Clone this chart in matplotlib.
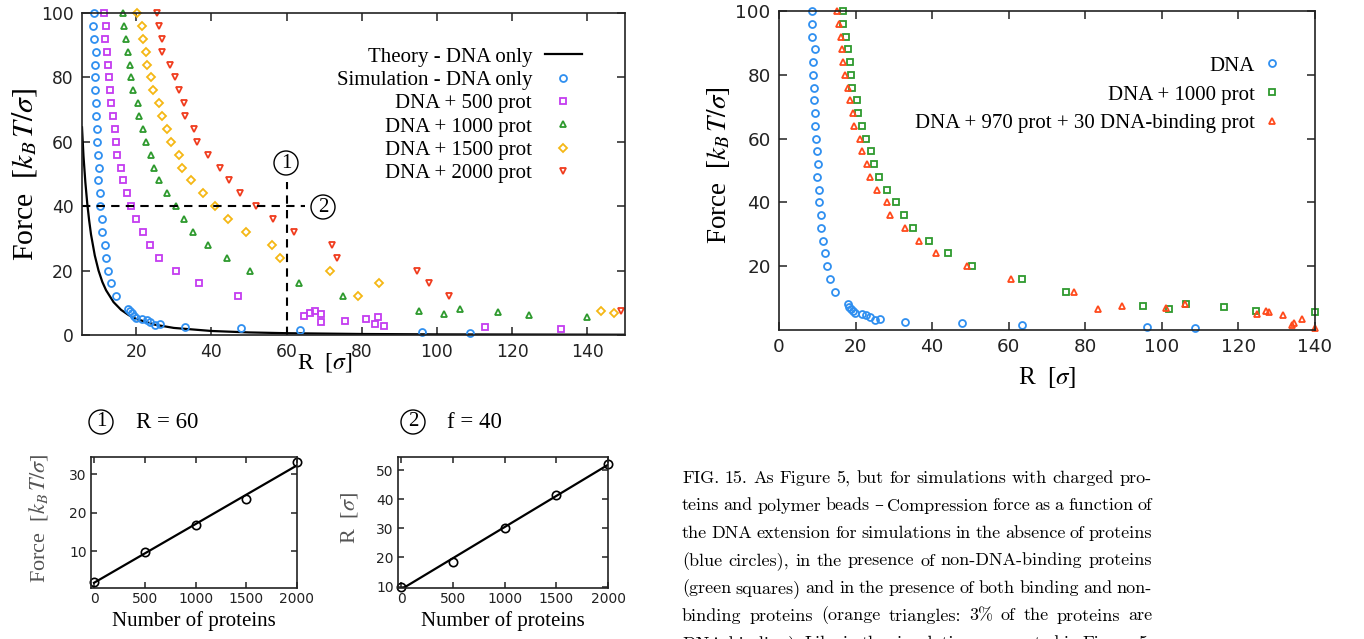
import numpy as np
import matplotlib.pyplot as plt

plt.rcParams['mathtext.fontset'] = 'stix'

W, H = 1364, 639
SERIF = 'Liberation Serif'

# force steps imposed in the compression runs
force_levels = [100, 96, 92, 88, 84, 80, 76, 72, 68, 64, 60, 56,
                52, 48, 44, 40, 36, 32, 28, 24, 20, 16, 12]

# DNA only
dna_R = [8.7, 8.5, 8.7, 9.4, 9.0, 9.0, 9.05, 9.2, 9.4, 9.5, 9.6, 9.9,
         10.1, 9.9, 10.4, 10.4, 10.9, 11.05, 11.6, 12.1, 12.45, 13.3, 14.6,
         17.9, 18.3, 18.9, 19.4, 19.9, 21.6, 22.8, 23.8, 25.1, 26.3, 32.9,
         47.8, 63.6, 96.0, 108.7]
dna_F = force_levels + [8.0, 7.3, 6.7, 6.0, 5.4, 4.9, 4.6, 4.05, 3.1, 3.5,
                        2.5, 2.2, 1.5, 1.0, 0.6]

# DNA + 500 proteins
p500_R = [11.5, 12.0, 11.8, 12.2, 12.5, 12.7, 13.1, 13.3, 13.8, 14.4, 14.6,
          15.0, 16.1, 16.6, 17.5, 18.6, 20.0, 21.8, 23.7, 26.2, 30.6, 36.6,
          47.1, 64.7, 66.3, 67.5, 69.2, 69.2, 75.6, 81.1, 84.3, 83.6, 85.8,
          112.9, 132.9]
p500_F = force_levels + [5.9, 6.9, 7.4, 6.4, 3.9, 4.3, 5.0, 5.5, 3.4, 2.9,
                         2.5, 1.9]

# DNA + 1000 proteins
p1000_R = [16.6, 16.8, 17.4, 17.9, 18.45, 18.7, 19.15, 20.45, 20.7, 21.8,
           22.7, 24.0, 24.7, 26.2, 28.3, 30.55, 32.6, 35.1, 39.1, 44.2, 50.4,
           63.4, 74.9, 95.1, 101.9, 106.2, 116.2, 124.5, 140.0]
p1000_F = force_levels + [7.6, 6.45, 8.0, 7.1, 6.1, 5.5]

# DNA + 1500 proteins
p1500_R = [20.3, 21.5, 21.9, 22.6, 23.0, 23.9, 24.6, 26.1, 27.0, 28.2, 29.2,
           31.5, 32.3, 34.6, 37.8, 41.0, 44.4, 49.3, 56.1, 58.3, 71.5, 84.5,
           79.0, 143.7, 147.1]
p1500_F = force_levels + [7.3, 6.9]

# DNA + 2000 proteins
p2000_R = [25.5, 26.2, 27.0, 27.0, 28.9, 30.3, 31.3, 32.6, 33.0, 35.3, 36.2,
           39.1, 42.2, 44.6, 47.5, 52.0, 56.3, 61.9, 72.1, 73.4, 94.7, 98.0,
           103.2, 148.9]
p2000_F = force_levels + [7.5]

# DNA + 970 proteins + 30 DNA-binding proteins
bind_R = [15.2, 15.75, 16.1, 16.5, 16.6, 17.3, 18.1, 18.5, 19.4, 19.7, 21.15,
          21.8, 22.9, 23.8, 25.7, 28.3, 29.1, 33.0, 36.6, 40.9, 49.0, 60.5,
          77.0, 83.4, 89.5, 101.1, 106.0, 124.9, 127.1, 128.0, 131.7, 133.9,
          134.5, 136.6, 140.0]
bind_F = force_levels + [6.45, 7.6, 7.0, 8.0, 4.9, 6.0, 5.5, 4.6, 1.45, 2.1,
                         3.5, 0.5]

# theory curve for bare DNA
theory_R = [5.6, 6.0, 6.5, 7.0, 7.5, 8.0, 9.0, 10.0, 11.0, 12.0, 14.0, 16.0,
            18.0, 20.0, 25.0, 30.0, 40.0, 50.0, 60.0, 80.0, 100.0, 150.0]
theory_F = [64.5, 55.5, 47.3, 40.8, 35.6, 31.2, 24.7, 20.0, 16.5, 13.9, 10.2,
            7.8, 6.2, 5.0, 3.2, 2.2, 1.25, 0.8, 0.56, 0.31, 0.2, 0.09]

# cuts through the curves
n_prot = [0, 500, 1000, 1500, 2000]
force_R60 = [1.9, 9.7, 16.9, 23.5, 33.2]
R_f40 = [10.0, 18.6, 30.0, 41.4, 52.1]

C_BLUE = '#2f8ff0'
C_PURPLE = '#c43cf0'
C_GREEN = '#2e9a2e'
C_YELLOW = '#f5b714'
C_RED = '#f03c1e'
C_ORANGE = '#ff4a1c'
INK = '#222222'


def px_axes(fig, x0, y0, x1, y1):
    return fig.add_axes([x0 / W, 1 - y1 / H, (x1 - x0) / W, (y1 - y0) / H])


def gnuplot_style(ax, size, length=6):
    for s in ax.spines.values():
        s.set_color(INK)
        s.set_linewidth(1.2)
    ax.tick_params(direction='in', top=True, right=True, length=length,
                   width=1.1, color=INK, labelsize=size, labelcolor=INK, pad=6)


def fig_text(fig, x, y, s, **kw):
    return fig.text(x / W, 1 - y / H, s, **kw)


def circled(fig, x, y, s, size=15):
    fig_text(fig, x, y, s, family=SERIF, fontsize=size, ha='center',
             va='center', bbox=dict(boxstyle='circle,pad=0.12', fc='white',
                                    ec='black', lw=1.0))


def scatter(ax, R, F, marker, color, label, ms=5):
    ax.plot(R, F, ls='none', marker=marker, mfc='none', mec=color, mew=1.3,
            ms=ms, label=label, clip_on=False)


fig = plt.figure(figsize=(W / 100, H / 100), dpi=100)

# ---- left: force vs extension, increasing crowder number
ax = px_axes(fig, 82, 13, 625, 335)
ax.plot(theory_R, theory_F, color='black', lw=1.6, label='Theory - DNA only')
scatter(ax, dna_R, dna_F, 'o', C_BLUE, 'Simulation - DNA only')
scatter(ax, p500_R, p500_F, 's', C_PURPLE, 'DNA + 500 prot', ms=4.6)
scatter(ax, p1000_R, p1000_F, '^', C_GREEN, 'DNA + 1000 prot')
scatter(ax, p1500_R, p1500_F, 'D', C_YELLOW, 'DNA + 1500 prot', ms=4.2)
scatter(ax, p2000_R, p2000_F, 'v', C_RED, 'DNA + 2000 prot')
ax.set_xlim(5.6, 150)
ax.set_ylim(0, 100)
ax.set_xticks(range(20, 141, 20))
ax.set_yticks(range(0, 101, 20))
gnuplot_style(ax, 12.3)
ax.plot([60, 60], [0, 47.5], color='black', lw=1.5, ls=(0, (4, 3)))
ax.plot([5.6, 65], [40, 40], color='black', lw=1.5, ls=(0, (4, 3)))
ax.legend(loc='upper right', bbox_to_anchor=(0.921, 0.894),
          markerfirst=False, frameon=False, borderpad=0,
          borderaxespad=0, handlelength=1.8, handletextpad=0.6,
          labelspacing=0.18, numpoints=1,
          prop={'family': SERIF, 'size': 15})
circled(fig, 286, 163, '1')
circled(fig, 323, 207, '2')
fig_text(fig, 25, 174, r'Force  [$k_B\,T/\sigma$]', family=SERIF,
         fontsize=21.5, rotation=90, ha='center', va='center')
fig_text(fig, 325, 362, r'R  [$\sigma$]', family=SERIF, fontsize=17,
         ha='center', va='center')

# ---- right: effect of DNA-binding proteins
ax2 = px_axes(fig, 779, 11, 1315, 330)
scatter(ax2, dna_R, dna_F, 'o', C_BLUE, 'DNA')
scatter(ax2, p1000_R, p1000_F, 's', C_GREEN, 'DNA + 1000 prot', ms=4.6)
scatter(ax2, bind_R, bind_F, '^', C_ORANGE,
        'DNA + 970 prot + 30 DNA-binding prot')
ax2.set_xlim(0, 140)
ax2.set_ylim(0, 100)
ax2.set_xticks(range(0, 141, 20))
ax2.set_yticks(range(20, 101, 20))
gnuplot_style(ax2, 13.2)
ax2.legend(loc='upper right', bbox_to_anchor=(0.935, 0.859),
           markerfirst=False, frameon=False, borderpad=0, borderaxespad=0,
           handlelength=0.8, handletextpad=0.4, labelspacing=0.45,
           numpoints=1, prop={'family': SERIF, 'size': 15})
fig_text(fig, 718, 165, r'Force  [$k_B\,T/\sigma$]', family=SERIF,
         fontsize=19.5, rotation=90, ha='center', va='center')
fig_text(fig, 1047, 378, r'R  [$\sigma$]', family=SERIF, fontsize=18,
         ha='center', va='center')

# ---- small panels: linear dependence on protein number
for (x0, x1), y, ylim, yt, ylab, lab_x in [
        ((91, 297), force_R60, (0.4, 34.5), [10, 20, 30],
         r'Force  [$k_B\,T/\sigma$]', 39),
        ((398, 608), R_f40, (9.5, 54.5), [10, 20, 30, 40, 50],
         r'R  [$\sigma$]', 350)]:
    axi = px_axes(fig, x0, 457, x1, 588)
    slope, icpt = np.polyfit(n_prot, y, 1)
    ends = np.array([n_prot[0], n_prot[-1]])
    axi.plot(ends, slope * ends + icpt, color='black', lw=1.6)
    axi.plot(n_prot, y, ls='none', marker='o', mfc='none', mec='black',
             mew=1.2, ms=6, clip_on=False)
    axi.set_xlim(-30, 2000)
    axi.set_ylim(*ylim)
    axi.set_xticks(n_prot)
    axi.set_yticks(yt)
    gnuplot_style(axi, 10, length=4)
    axi.tick_params(pad=3)
    fig_text(fig, lab_x, 518, ylab, family=SERIF, fontsize=16, rotation=90,
             ha='center', va='center', color='#555555')
    fig_text(fig, (x0 + x1) / 2, 621, 'Number of proteins', family=SERIF,
             fontsize=15, ha='center', va='center')

circled(fig, 101, 422, '1', size=15)
fig_text(fig, 136, 422, 'R = 60', family=SERIF, fontsize=16.5, va='center')
circled(fig, 413, 422, '2', size=15)
fig_text(fig, 447, 422, 'f = 40', family=SERIF, fontsize=16.5, va='center')

# ---- caption, justified line by line
caption = [
    'FIG. 15.  As Figure 5, but for simulations with charged pro-',
    'teins and polymer beads \u2013 Compression force as a function of',
    'the DNA extension for simulations in the absence of proteins',
    '(blue circles), in the presence of non-DNA-binding proteins',
    '(green squares) and in the presence of both binding and non-',
    'binding proteins (orange triangles:  3% of the proteins are',
    'DNA-binding). Like in the simulations presented in Figure 5,',
]
renderer = fig.canvas.get_renderer()
cap_x0, cap_x1 = 682, 1152
for i, line in enumerate(caption):
    y = 1 - (483 + 27.5 * i) / H
    words = line.split()
    texts = [fig.text(0, y, w, family=['cmr10', 'DejaVu Serif'],
                      fontsize=13, va='baseline') for w in words]
    widths = [t.get_window_extent(renderer).width for t in texts]
    gap = (cap_x1 - cap_x0 - sum(widths)) / (len(words) - 1)
    x = cap_x0
    for t, w in zip(texts, widths):
        t.set_x(x / W)
        x += w + gap

fig.savefig('out.png', dpi=100, facecolor='white')
